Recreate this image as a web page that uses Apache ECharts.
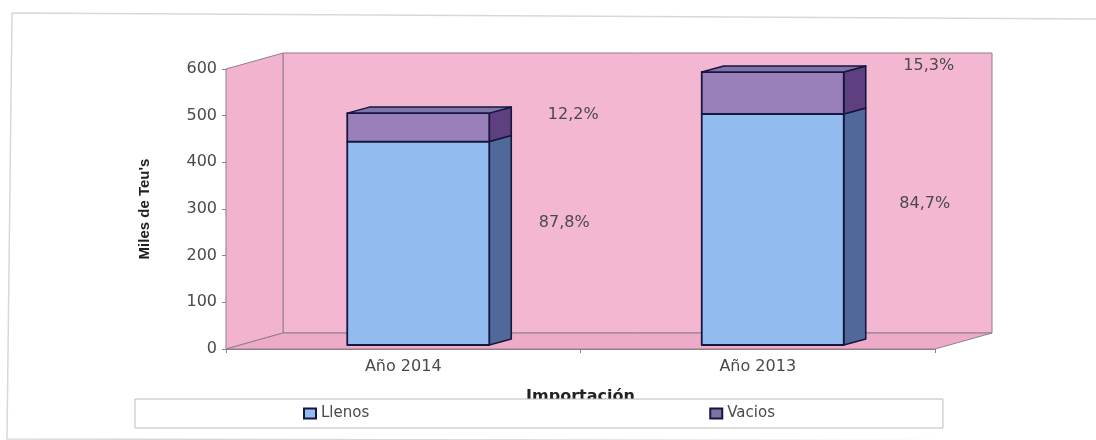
<!DOCTYPE html>
<html><head><meta charset="utf-8">
<style>html,body{margin:0;padding:0;background:#fff}#c{width:1096px;height:440px}</style>
<script src="https://cdn.jsdelivr.net/npm/echarts@6/dist/echarts.min.js"></script>
</head><body><div id="c"></div>
<script>
const categories = ['Año 2014', 'Año 2013'];
const llenos = [436, 495];
const vacios = [61, 90];
const llenosShare = ['87,8%', '84,7%'];
const vaciosShare = ['12,2%', '15,3%'];
const yTicks = { min: 0, max: 600, interval: 100 };

const font = '"DejaVu Sans", sans-serif';
const textColor = '#4a4a4a';
const edge = '#16163f';
const wallDepth = [57, -16];
const barDepth = [22, -6];
const barShift = [15, -4];
const barHalf = 71;

function poly(pts, fill, stroke, lw) {
  return { type: 'polygon', shape: { points: pts },
    style: { fill: fill, stroke: stroke || null, lineWidth: lw || 0, lineJoin: 'round' } };
}
function wallItem(params) {
  const c = params.coordSys, d = wallDepth;
  const l = c.x, r = c.x + c.width, t = c.y, b = c.y + c.height;
  const line = '#8f7f8c';
  return { type: 'group', children: [
    poly([[l + d[0], t + d[1]], [r + d[0], t + d[1]], [r + d[0], b + d[1]], [l + d[0], b + d[1]]], '#f3b7d1', line, 1),
    poly([[l, t], [l + d[0], t + d[1]], [l + d[0], b + d[1]], [l, b]], '#f1b3cd', line, 1),
    poly([[l, b], [l + d[0], b + d[1]], [r + d[0], b + d[1]], [r, b]], '#eeabc8', line, 1)
  ]};
}
function barItem(colors, baseArr, shares, labelOffsets) {
  return function (params, api) {
    const i = api.value(0), v = api.value(1), base = baseArr ? baseArr[i] : 0;
    const pb = api.coord([i, base]), pt = api.coord([i, base + v]);
    const x0 = pb[0] + barShift[0] - barHalf, x1 = pb[0] + barShift[0] + barHalf;
    const yb = pb[1] + barShift[1], yt = pt[1] + barShift[1];
    const dx = barDepth[0], dy = barDepth[1];
    const kids = [
      poly([[x1, yt], [x1 + dx, yt + dy], [x1 + dx, yb + dy], [x1, yb]], colors.side, edge, 1.6),
      poly([[x0, yt], [x1, yt], [x1, yb], [x0, yb]], colors.front, edge, 1.8)
    ];
    if (colors.top) kids.push(poly([[x0, yt], [x0 + dx, yt + dy], [x1 + dx, yt + dy], [x1, yt]], colors.top, edge, 1.4));
    const o = labelOffsets[i];
    kids.push({ type: 'text', x: x1 + o[0], y: (yt + yb) / 2 + o[1],
      style: { text: shares[i], fill: textColor, font: '16px ' + font, align: 'center', verticalAlign: 'middle' } });
    return { type: 'group', children: kids };
  };
}

const chart = echarts.init(document.getElementById('c'), null, { renderer: 'canvas' });
chart.setOption({
  animation: false,
  backgroundColor: '#fff',
  grid: { left: 226, top: 69, width: 709, height: 280, containLabel: false },
  graphic: [{ type: 'polyline', silent: true, z: -1,
    shape: { points: [[1096, 19], [12, 13], [7, 439], [1096, 441]] },
    style: { fill: null, stroke: '#d8d8d8', lineWidth: 1.5 } }],
  legend: {
    left: 135, top: 399, orient: 'horizontal', icon: 'rect',
    data: ['Llenos', 'Vacios'],
    padding: [7, 168, 7, 168], itemGap: 340, itemWidth: 12, itemHeight: 10,
    backgroundColor: '#fff', borderColor: '#bdbdbd', borderWidth: 1, borderRadius: 0,
    textStyle: { color: textColor, fontFamily: font, fontSize: 15 },
    selectedMode: false
  },
  xAxis: {
    type: 'category', data: categories,
    name: 'Importación', nameLocation: 'middle', nameGap: 40,
    nameTextStyle: { color: '#222', fontFamily: font, fontWeight: 'bold', fontSize: 16 },
    axisLine: { lineStyle: { color: '#8f7f8c' } },
    axisTick: { show: true, length: 4, lineStyle: { color: '#8f7f8c' } },
    axisLabel: { color: textColor, fontFamily: font, fontSize: 16, margin: 10 }
  },
  yAxis: {
    type: 'value', min: yTicks.min, max: yTicks.max, interval: yTicks.interval,
    name: "Miles de Teu's", nameLocation: 'middle', nameGap: 74,
    nameTextStyle: { color: '#222', fontFamily: '"Liberation Sans", sans-serif', fontWeight: 'bold', fontSize: 15 },
    axisLine: { show: true, lineStyle: { color: '#8f7f8c' } },
    axisTick: { show: true, length: 4, lineStyle: { color: '#8f7f8c' } },
    splitLine: { show: false },
    axisLabel: { color: textColor, fontFamily: font, fontSize: 16, margin: 9 }
  },
  series: [
    { type: 'custom', name: 'plano', data: [[0, 0]], silent: true, z: 1, clip: false, renderItem: wallItem },
    { type: 'custom', name: 'Llenos', z: 2, clip: false,
      itemStyle: { color: '#92bbf0', borderColor: edge, borderWidth: 1.5 },
      data: llenos.map((v, i) => [i, v]),
      renderItem: barItem({ front: '#92bbf0', side: '#4f6a9a' }, null, llenosShare, [[75, -20], [81, -26]]) },
    { type: 'custom', name: 'Vacios', z: 3, clip: false,
      itemStyle: { color: '#7d74a6', borderColor: edge, borderWidth: 1.5 },
      data: vacios.map((v, i) => [i, v]),
      renderItem: barItem({ front: '#9a80ba', side: '#5e3f80', top: '#7f74a8' }, llenos, vaciosShare, [[84, -12], [85, -27]]) }
  ]
});
</script></body></html>
